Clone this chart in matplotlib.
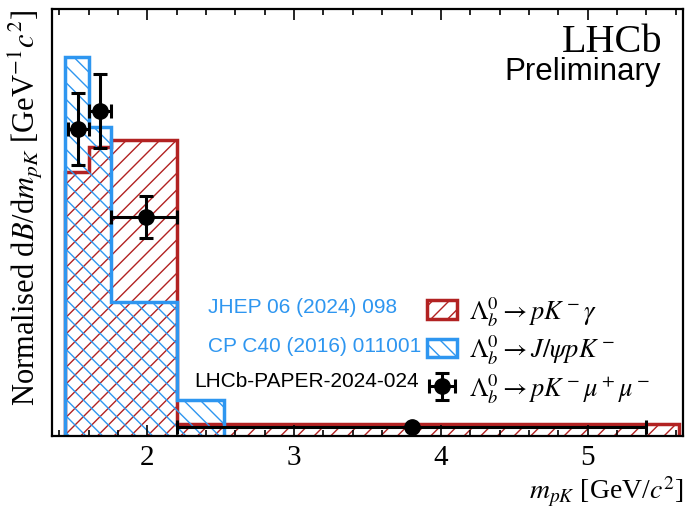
import numpy as np
import matplotlib
matplotlib.use("Agg")
import matplotlib.pyplot as plt
from matplotlib.patches import Patch
from matplotlib.ticker import MultipleLocator

plt.rcParams['font.family'] = ['Liberation Serif', 'DejaVu Serif']
plt.rcParams['mathtext.fontset'] = 'stix'
plt.rcParams['hatch.linewidth'] = 1.0

# Lb -> p K gamma  (JHEP 06 (2024) 098)
gamma_edges = [1.44, 1.60, 1.75, 2.20, 5.62]
gamma_vals = [2.64, 2.89, 2.96, 0.12]

# Lb -> J/psi p K  (CP C40 (2016) 011001)
jpsi_edges = [1.44, 1.60, 1.75, 2.20, 2.52]
jpsi_vals = [3.79, 3.09, 1.34, 0.36]

# Lb -> p K mu mu  (LHCb-PAPER-2024-024)
mumu_lo = [1.46, 1.60, 1.75, 2.20]
mumu_hi = [1.60, 1.75, 2.20, 5.40]
mumu_x = [1.53, 1.68, 1.99, 3.80]
mumu_y = [3.07, 3.25, 2.19, 0.09]
mumu_err = [0.36, 0.37, 0.21, 0.02]

red = '#b22222'
blue = '#2e96f0'

fig = plt.figure(figsize=(6.95, 5.10), dpi=100)
ax = fig.add_axes([52/695, 73/510, 631/695, 427/510])

ax.stairs(gamma_vals, gamma_edges, fill=True, facecolor='none', edgecolor=red,
          hatch='//', linewidth=2.5)
ax.stairs(jpsi_vals, jpsi_edges, fill=True, facecolor='none', edgecolor=blue,
          hatch='\\\\', linewidth=2.5)

xerr = [np.array(mumu_x) - np.array(mumu_lo), np.array(mumu_hi) - np.array(mumu_x)]
eb = ax.errorbar(mumu_x, mumu_y, xerr=xerr, yerr=mumu_err, fmt='o', color='black',
                 markersize=11, elinewidth=2.2, capsize=5, capthick=2.2, zorder=5)

ax.set_xlim(1.35, 5.65)
ax.set_ylim(0, 4.27)

ax.xaxis.set_major_locator(MultipleLocator(1))
ax.xaxis.set_minor_locator(MultipleLocator(0.2))
ax.tick_params(axis='x', which='both', direction='in', top=True, bottom=True,
               labelsize=21, pad=6)
ax.tick_params(axis='x', which='major', length=8, width=1.2)
ax.tick_params(axis='x', which='minor', length=4.5, width=1.2)
ax.tick_params(axis='y', which='both', left=False, right=False, labelleft=False)
for sp in ax.spines.values():
    sp.set_linewidth(1.6)

ax.set_xlabel(r'$m_{pK}$ [GeV/$c^2$]', fontsize=20, ha='right', va='top')
ax.xaxis.set_label_coords(1.0, -0.088)
ax.set_ylabel(r'Normalised d$B$/d$m_{pK}$ [GeV$^{-1}c^2$]', fontsize=22,
              loc='top', labelpad=5)

ax.text(0.968, 0.925, 'LHCb', transform=ax.transAxes, ha='right', va='center',
        fontsize=29)
ax.text(0.965, 0.855, 'Preliminary', transform=ax.transAxes, ha='right', va='center',
        fontsize=22.5, family='Liberation Sans')

handles = [Patch(facecolor='none', edgecolor=red, hatch='//', linewidth=2.5),
           Patch(facecolor='none', edgecolor=blue, hatch='\\\\', linewidth=2.5),
           eb]
labels = [r'$\Lambda_b^0 \rightarrow pK^-\gamma$',
          r'$\Lambda_b^0 \rightarrow J/\psi pK^-$',
          r'$\Lambda_b^0 \rightarrow pK^-\mu^+\mu^-$']
ax.legend(handles, labels, loc='upper left', bbox_to_anchor=(0.594, 0.331),
          frameon=False, fontsize=19, handlelength=1.15, handleheight=0.7,
          handletextpad=0.45, labelspacing=0.19, borderpad=0, borderaxespad=0)

refs = ['JHEP 06 (2024) 098', 'CP C40 (2016) 011001', 'LHCb-PAPER-2024-024']
ref_colors = [blue, blue, 'black']
ref_x = [0.547, 0.585, 0.582]
ref_y = [0.304, 0.211, 0.129]
for t, c, x, y in zip(refs, ref_colors, ref_x, ref_y):
    ax.text(x, y, t, transform=ax.transAxes, ha='right', va='center',
            fontsize=15, color=c, family='Liberation Sans')

fig.savefig('out.png', dpi=100)
